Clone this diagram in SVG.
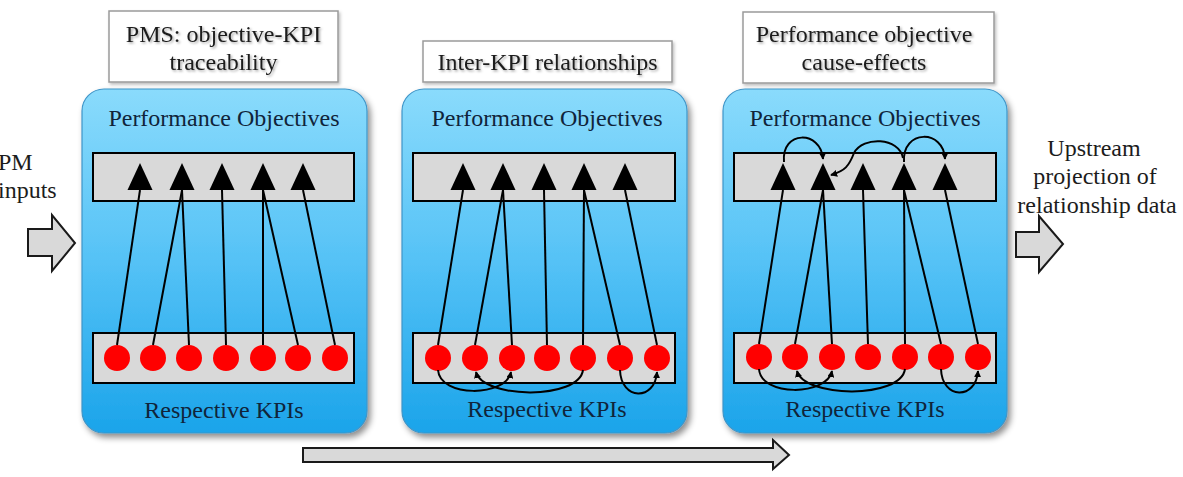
<svg xmlns="http://www.w3.org/2000/svg" width="1183" height="477" viewBox="0 0 1183 477">
  <defs>
    <linearGradient id="blueGrad" x1="0" y1="0" x2="0" y2="1">
      <stop offset="0" stop-color="#8adbfc"/>
      <stop offset="0.5" stop-color="#55c2f6"/>
      <stop offset="1" stop-color="#1ba4ea"/>
    </linearGradient>
    <filter id="panelShadow" x="-10%" y="-10%" width="125%" height="125%">
      <feDropShadow dx="3" dy="4" stdDeviation="3" flood-color="#000" flood-opacity="0.45"/>
    </filter>
    <filter id="boxShadow" x="-10%" y="-20%" width="125%" height="150%">
      <feDropShadow dx="1.5" dy="2" stdDeviation="1.5" flood-color="#000" flood-opacity="0.25"/>
    </filter>
    <filter id="textShadow" x="-5%" y="-20%" width="115%" height="150%">
      <feDropShadow dx="1.5" dy="1.5" stdDeviation="1.2" flood-color="#000" flood-opacity="0.35"/>
    </filter>
    <path id="tri" d="M0,0 L12.5,27 L-12.5,27 Z" fill="#000"/>
    <marker id="small" viewBox="0 0 8 8" refX="7" refY="4" markerWidth="7" markerHeight="7" markerUnits="userSpaceOnUse" orient="auto">
      <path d="M0,0 L8,4 L0,8 Z" fill="#000"/>
    </marker>
    <style>
      .title { fill: #1c1c1c; text-anchor: middle; }
      .plabel { fill: #10243a; text-anchor: middle; }
      .side { fill: #1c1c1c; }
      .panel { fill: url(#blueGrad); stroke: #3f95c8; stroke-width: 1.2; }
      .bar { fill: #d9d9d9; stroke: #000; stroke-width: 2; }
      .kpi { fill: #ff0000; }
      .tbox { fill: #fff; stroke: #9a9a9a; stroke-width: 1.5; }
      .bigarrow { fill: #d9d9d9; stroke: #1a1a1a; stroke-width: 2; stroke-linejoin: miter; }
      .link { stroke: #000; stroke-width: 2; fill: none; }
      .rel { stroke: #000; stroke-width: 2; fill: none; marker-end: url(#small); }
    </style>
  </defs>

  <rect width="1183" height="477" fill="#fff"/>

  <g font-family="'Liberation Serif', 'DejaVu Serif', serif" font-size="24">
  <!-- Title boxes -->
  <g id="title1" filter="url(#boxShadow)">
    <rect class="tbox" x="109" y="11" width="229" height="71"/>
    <g filter="url(#textShadow)">
      <text class="title" x="223.5" y="42">PMS: objective-KPI</text>
      <text class="title" x="223.5" y="70">traceability</text>
    </g>
  </g>
  <g id="title2" filter="url(#boxShadow)">
    <rect class="tbox" x="423" y="41" width="249" height="41"/>
    <g filter="url(#textShadow)">
      <text class="title" x="547.5" y="70">Inter-KPI relationships</text>
    </g>
  </g>
  <g id="title3" filter="url(#boxShadow)">
    <rect class="tbox" x="743" y="12" width="251" height="71"/>
    <g filter="url(#textShadow)">
      <text class="title" x="864" y="42">Performance objective</text>
      <text class="title" x="864" y="70">cause-effects</text>
    </g>
  </g>

  <!-- Side labels and arrows -->
  <g id="pm-inputs">
    <text class="side" x="-2" y="170">PM</text>
    <text class="side" x="-2" y="198">inputs</text>
    <path class="bigarrow" d="M28,229 L52,229 L52,215 L75,243 L52,271 L52,256 L28,256 Z"/>
  </g>
  <g id="upstream">
    <text class="title" x="1094" y="156">Upstream</text>
    <text class="title" x="1095" y="184">projection of</text>
    <text class="title" x="1097" y="213">relationship data</text>
    <path class="bigarrow" d="M1016,232 L1039,232 L1039,216 L1063,244 L1039,272 L1039,257 L1016,257 Z"/>
  </g>
  <g id="progress-arrow">
    <path class="bigarrow" d="M303,448 L773,448 L773,440 L789,455 L773,469 L773,462 L303,462 Z"/>
  </g>

  <!-- Panels -->
  <g id="panel1">
    <rect class="panel" x="82" y="89" width="285" height="344" rx="22" filter="url(#panelShadow)"/>
    <text class="plabel" x="224" y="126">Performance Objectives</text>
    <rect class="bar" x="93" y="153" width="261" height="48"/>
    <use href="#tri" x="140" y="163"/>
    <use href="#tri" x="182" y="163"/>
    <use href="#tri" x="222" y="163"/>
    <use href="#tri" x="263" y="163"/>
    <use href="#tri" x="303" y="163"/>
    <rect class="bar" x="93" y="333" width="261" height="50"/>
    <circle class="kpi" cx="117" cy="358" r="13"/>
    <circle class="kpi" cx="153" cy="358" r="13"/>
    <circle class="kpi" cx="189" cy="358" r="13"/>
    <circle class="kpi" cx="226" cy="358" r="13"/>
    <circle class="kpi" cx="263" cy="358" r="13"/>
    <circle class="kpi" cx="298" cy="358" r="13"/>
    <circle class="kpi" cx="335" cy="358" r="13"/>
    <text class="plabel" x="224" y="418">Respective KPIs</text>
  </g>

  <g id="panel2" transform="translate(321,0)">
    <rect class="panel" x="81" y="89" width="285" height="344" rx="22" filter="url(#panelShadow)"/>
    <text class="plabel" x="226" y="126">Performance Objectives</text>
    <rect class="bar" x="92" y="153" width="262" height="48"/>
    <use href="#tri" x="142" y="163"/>
    <use href="#tri" x="182" y="163"/>
    <use href="#tri" x="223" y="163"/>
    <use href="#tri" x="263" y="163"/>
    <use href="#tri" x="304" y="163"/>
    <rect class="bar" x="92" y="333" width="262" height="50"/>
    <circle class="kpi" cx="117" cy="358" r="13"/>
    <circle class="kpi" cx="154" cy="358" r="13"/>
    <circle class="kpi" cx="191" cy="358" r="13"/>
    <circle class="kpi" cx="226" cy="358" r="13"/>
    <circle class="kpi" cx="262" cy="358" r="13"/>
    <circle class="kpi" cx="299" cy="358" r="13"/>
    <circle class="kpi" cx="336" cy="358" r="13"/>
    <text class="plabel" x="226" y="417">Respective KPIs</text>
  </g>

  <g id="panel3" transform="translate(641,0)">
    <rect class="panel" x="82" y="89" width="284" height="344" rx="22" filter="url(#panelShadow)"/>
    <text class="plabel" x="224" y="126">Performance Objectives</text>
    <rect class="bar" x="93" y="153" width="262" height="48"/>
    <use href="#tri" x="142" y="163"/>
    <use href="#tri" x="182" y="163"/>
    <use href="#tri" x="222" y="163"/>
    <use href="#tri" x="263" y="163"/>
    <use href="#tri" x="304" y="163"/>
    <rect class="bar" x="93" y="333" width="262" height="50"/>
    <circle class="kpi" cx="118" cy="357" r="13"/>
    <circle class="kpi" cx="154" cy="357" r="13"/>
    <circle class="kpi" cx="191" cy="357" r="13"/>
    <circle class="kpi" cx="227" cy="357" r="13"/>
    <circle class="kpi" cx="264" cy="357" r="13"/>
    <circle class="kpi" cx="300" cy="357" r="13"/>
    <circle class="kpi" cx="337" cy="357" r="13"/>
    <text class="plabel" x="224" y="417">Respective KPIs</text>
  </g>
  </g>

  <!-- Connectors -->
  <g id="connectors">
    <g id="links1">
      <line class="link" x1="117" y1="345" x2="140" y2="190"/>
      <line class="link" x1="153" y1="345" x2="182" y2="190"/>
      <line class="link" x1="189" y1="345" x2="182" y2="190"/>
      <line class="link" x1="226" y1="345" x2="222" y2="190"/>
      <line class="link" x1="263" y1="345" x2="263" y2="190"/>
      <line class="link" x1="298" y1="345" x2="263" y2="190"/>
      <line class="link" x1="335" y1="345" x2="303" y2="190"/>
    </g>
    <g id="links2" transform="translate(321,0)">
      <line class="link" x1="117" y1="345" x2="142" y2="190"/>
      <line class="link" x1="154" y1="345" x2="182" y2="190"/>
      <line class="link" x1="191" y1="345" x2="182" y2="190"/>
      <line class="link" x1="226" y1="345" x2="223" y2="190"/>
      <line class="link" x1="262" y1="345" x2="263" y2="190"/>
      <line class="link" x1="299" y1="345" x2="263" y2="190"/>
      <line class="link" x1="336" y1="345" x2="304" y2="190"/>
      <path class="rel" d="M117,370 C119,398 185,397 190,372"/>
      <path class="rel" d="M262,370 C258,400 162,399 155,372"/>
      <path class="rel" d="M299,370 C300,401 334,401 336,372"/>
    </g>
    <g id="links3" transform="translate(641,0)">
      <line class="link" x1="118" y1="344" x2="142" y2="190"/>
      <line class="link" x1="154" y1="344" x2="182" y2="190"/>
      <line class="link" x1="191" y1="344" x2="182" y2="190"/>
      <line class="link" x1="227" y1="344" x2="222" y2="190"/>
      <line class="link" x1="264" y1="344" x2="263" y2="190"/>
      <line class="link" x1="300" y1="344" x2="263" y2="190"/>
      <line class="link" x1="337" y1="344" x2="304" y2="190"/>
      <path class="rel" d="M118,369 C120,397 186,396 191,371"/>
      <path class="rel" d="M264,369 C260,399 163,398 156,371"/>
      <path class="rel" d="M300,369 C301,400 335,400 337,371"/>
      <path class="rel" d="M143,162 C140,130 180,130 182,159"/>
      <path class="rel" d="M263,162 C261,129 303,129 304,159"/>
      <path class="rel" d="M262,158 C258,137 222,136 213,153 C208,166 204,171 190,175"/>
    </g>
  </g>
</svg>
